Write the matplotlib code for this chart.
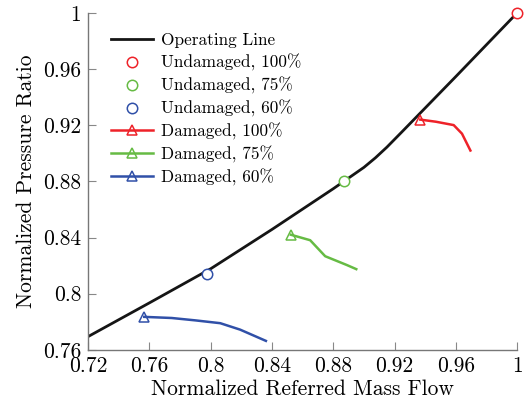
import matplotlib
matplotlib.use("Agg")
import matplotlib.pyplot as plt

plt.rcParams["font.family"] = ["cmr10", "DejaVu Serif"]
plt.rcParams["axes.formatter.use_mathtext"] = True
plt.rcParams["mathtext.fontset"] = "cm"

# operating line of the compressor map
op_flow = [0.72, 0.76, 0.80, 0.84, 0.88, 0.90, 0.9075, 0.915, 0.925, 0.96, 1.0]
op_pr = [0.7695, 0.7935, 0.8178, 0.8458, 0.8748, 0.8900, 0.8968, 0.9044, 0.9155,
         0.9547, 1.0]

# undamaged operating points at 100 / 75 / 60 %
und_flow = [1.0, 0.8873, 0.7978]
und_pr = [1.0, 0.880, 0.814]

# damaged trajectories
dmg100_flow = [0.9368, 0.947, 0.9586, 0.964, 0.9695]
dmg100_pr = [0.9240, 0.9225, 0.9201, 0.914, 0.9020]
dmg75_flow = [0.8523, 0.8649, 0.8747, 0.8889, 0.895]
dmg75_pr = [0.8420, 0.8381, 0.8267, 0.8204, 0.8175]
dmg60_flow = [0.7566, 0.7745, 0.790, 0.8062, 0.8192, 0.836]
dmg60_pr = [0.7835, 0.7827, 0.7810, 0.7790, 0.7744, 0.7664]

xticks = [0.72, 0.76, 0.8, 0.84, 0.88, 0.92, 0.96, 1.0]
xtick_labels = ["0.72", "0.76", "0.8", "0.84", "0.88", "0.92", "0.96", "1"]
yticks = [0.76, 0.8, 0.84, 0.88, 0.92, 0.96, 1.0]
ytick_labels = ["0.76", "0.8", "0.84", "0.88", "0.92", "0.96", "1"]

red, green, blue = "#ee2229", "#66bb44", "#3050a8"
levels = ["100%", "75%", "60%"]
colors = [red, green, blue]

fig = plt.figure(figsize=(5.25, 4.04), dpi=100)
ax = fig.add_axes([0.168, 0.134, 0.817, 0.834])

ax.plot(op_flow, op_pr, color="#151515", lw=2.0, label="Operating Line", zorder=2)
for fx, pr, c, lvl in zip(und_flow, und_pr, colors, levels):
    ax.plot([fx], [pr], "o", ms=7.5, mfc="white", mec=c, mew=1.1, ls="none",
            label=f"Undamaged, {lvl}", zorder=3, clip_on=False)
for fx, pr, c, lvl in zip([dmg100_flow, dmg75_flow, dmg60_flow],
                          [dmg100_pr, dmg75_pr, dmg60_pr], colors, levels):
    ax.plot(fx, pr, color=c, lw=1.8, marker="^", markevery=[0], ms=7,
            mfc="none", mec=c, mew=1.1, label=f"Damaged, {lvl}", zorder=3)

ax.set_xlim(0.72, 1.0)
ax.set_ylim(0.76, 1.0)
ax.set_xticks(xticks)
ax.set_xticklabels(xtick_labels)
ax.set_yticks(yticks)
ax.set_yticklabels(ytick_labels)
ax.tick_params(direction="in", length=6, width=0.8, color="#888888",
               labelsize=15.5, pad=5)
for side in ["top", "right"]:
    ax.spines[side].set_visible(False)
for side in ["left", "bottom"]:
    ax.spines[side].set_color("#777777")
    ax.spines[side].set_linewidth(1.0)

ax.set_xlabel("Normalized Referred Mass Flow", fontsize=15.5, labelpad=2)
ax.set_ylabel("Normalized Pressure Ratio", fontsize=15.5, labelpad=5)

ax.legend(loc="upper left", bbox_to_anchor=(0.054, 0.94), frameon=False,
          fontsize=12.4, handlelength=2.4, handletextpad=0.5,
          labelspacing=0.33, borderpad=0, borderaxespad=0)

fig.savefig("out.png", dpi=100)
